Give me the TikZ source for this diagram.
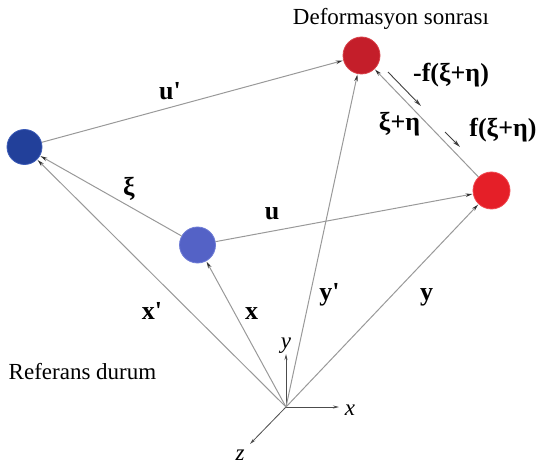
\documentclass[tikz,border=0pt]{standalone}
\usepackage{fontspec}
\setmainfont{Liberation Serif}
\usetikzlibrary{arrows.meta}
\definecolor{bdark}{HTML}{22409A}
\definecolor{bdarkrim}{HTML}{3C5CB8}
\definecolor{bmid}{HTML}{5462C6}
\definecolor{bmidrim}{HTML}{6E7CD6}
\definecolor{rdark}{HTML}{C41E2A}
\definecolor{rdarkrim}{HTML}{D84048}
\definecolor{rbright}{HTML}{E51F28}
\definecolor{rbrightrim}{HTML}{F04850}
\definecolor{linegray}{HTML}{999999}
\newcommand{\pr}{\textquotesingle}
\begin{document}
\begin{tikzpicture}[x=1pt,y=-1pt,
  conn/.style={draw=linegray, line width=1pt, shorten >=0.5pt, -{Stealth[length=7pt,width=3.6pt,color=black!80]}},
  force/.style={draw=black!75, line width=0.9pt, -{Stealth[length=8pt,width=4pt]}},
  axis/.style={draw=black!70, line width=0.8pt, -{Stealth[length=6pt,width=3pt]}},
  ball/.style={circle, minimum size=#1, inner sep=0pt, line width=0.8pt},
  ball/.default=36pt,
  lbl/.style={font=\fontsize{26}{26}\selectfont\bfseries, anchor=base, inner sep=0pt},
  plain/.style={font=\fontsize{23}{23}\selectfont, anchor=base, inner sep=0pt},
  axlbl/.style={font=\fontsize{23}{23}\selectfont\itshape, anchor=base, inner sep=0pt},
]
\useasboundingbox (0,0) rectangle (544,468);

% origin and axes
\coordinate (O) at (286,407);
\coordinate (ytip) at (286,354);
\coordinate (xtip) at (339,407);
\coordinate (ztip) at (250,444);
\draw[axis] (O) -- (ytip);
\draw[axis] (O) -- (xtip);
\draw[axis] (O) -- (ztip);
\node[axlbl] (ylab) at (286,348) {y};
\node[axlbl] (xlab) at (350,415) {x};
\node[axlbl] (zlab) at (240,460) {z};

% particles
\node[ball=35pt, fill=bdark, draw=bdarkrim] (B1) at (24.5,147) {};
\node[ball=36pt, fill=bmid, draw=bmidrim] (B2) at (197.5,245) {};
\node[ball=37pt, fill=rdark, draw=rdarkrim] (R1) at (361.5,55.5) {};
\node[ball=37pt, fill=rbright, draw=rbrightrim] (R2) at (491.5,190.5) {};

% connectors
\draw[conn] (O) -- (B1);
\draw[conn] (O) -- (B2);
\draw[conn] (O) -- (R1);
\draw[conn] (O) -- (R2);
\draw[conn] (B1) -- (R1);
\draw[conn] (B2) -- (R2);
\draw[conn] (B2) -- (B1);
\draw[conn] (R2) -- (R1);

% forces
\coordinate (fa1) at (388,72);
\coordinate (fa2) at (421,106);
\coordinate (fb1) at (445,132);
\coordinate (fb2) at (460,147);
\draw[force] (fa1) -- (fa2);
\draw[force] (fb1) -- (fb2);

% labels
\node[plain] (deflab) at (391,25) {Deformasyon sonrası};
\node[plain] (reflab) at (82.5,379) {Referans durum};
\node[lbl] (uplab) at (170,100) {u\pr};
\node[lbl] (ulab) at (272,220) {u};
\node[lbl] (xilab) at (129,196) {ξ};
\node[lbl] (xiplab) at (399.5,131) {ξ+η};
\node[lbl] (mflab) at (451,82) {-f(ξ+η)};
\node[lbl] (flab) at (503,137) {f(ξ+η)};
\node[lbl] (xplab) at (152,319) {x\pr};
\node[lbl] (xblab) at (251.5,319) {x};
\node[lbl] (yplab) at (329.5,300) {y\pr};
\node[lbl] (yblab) at (426.5,300) {y};
\end{tikzpicture}
\end{document}
